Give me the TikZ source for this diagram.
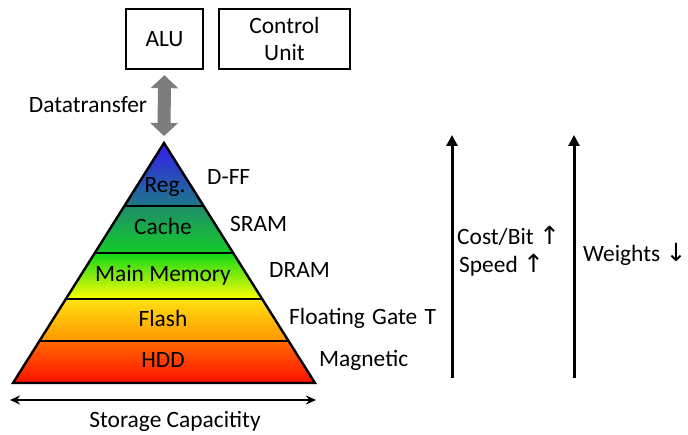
\documentclass[tikz,border=0pt]{standalone}
\usepackage{fontspec}
\setmainfont{Carlito}
\newfontfamily\symfont{DejaVu Sans}
\usetikzlibrary{calc,arrows.meta}
\definecolor{regtop}{RGB}{50,28,240}
\definecolor{regbot}{RGB}{30,120,135}
\definecolor{cachetop}{RGB}{30,140,105}
\definecolor{cachebot}{RGB}{20,205,40}
\definecolor{memtop}{RGB}{15,215,25}
\definecolor{membot}{RGB}{255,255,0}
\definecolor{flashtop}{RGB}{255,225,15}
\definecolor{flashbot}{RGB}{255,150,0}
\definecolor{hddtop}{RGB}{255,105,0}
\definecolor{hddbot}{RGB}{255,15,0}
\definecolor{xfer}{RGB}{125,125,125}
\newcommand{\myarr}[1]{{\symfont\fontsize{25}{28}\selectfont#1}}
\begin{document}
\begin{tikzpicture}[x=1pt,y=-1pt,
  every node/.style={font=\fontsize{23.4}{28}\selectfont},
  txt/.style={inner sep=0pt,anchor=base},
  box/.style={draw,line width=2.4pt,inner sep=0pt,align=center},
  band/.style={draw,line width=2.4pt,line join=miter},
  bigarrow/.style={line width=3pt,-{Triangle[length=11pt,width=11pt]}}]
\useasboundingbox (0,0) rectangle (688,435);
% processor boxes
\node[box,minimum width=77pt,minimum height=60pt] (alu) at (164.5,39) {ALU};
\node[box,minimum width=131pt,minimum height=60pt] (cu) at (284.5,39) {Control\\[-1pt]Unit};
% pyramid geometry
\coordinate (A) at (164,143);
\coordinate (BL) at (13,383);
\coordinate (BR) at (315,383);
\foreach \n/\t in {1/0.2625,2/0.4583,3/0.65,4/0.825}{
  \coordinate (L\n) at ($(A)!\t!(BL)$);
  \coordinate (R\n) at ($(A)!\t!(BR)$);
}
\shade[top color=regtop,bottom color=regbot] (A) -- (L1) -- (R1) -- cycle;
\shade[top color=cachetop,bottom color=cachebot] (L1) -- (L2) -- (R2) -- (R1) -- cycle;
\shade[top color=memtop,bottom color=membot] (L2) -- (L3) -- (R3) -- (R2) -- cycle;
\shade[top color=flashtop,bottom color=flashbot] (L3) -- (L4) -- (R4) -- (R3) -- cycle;
\shade[top color=hddtop,bottom color=hddbot] (L4) -- (BL) -- (BR) -- (R4) -- cycle;
\draw[band] (A) -- (BL) -- (BR) -- cycle;
\foreach \n in {1,2,3,4}{\draw[band] (L\n) -- (R\n);}
% data transfer arrow
\draw[xfer,line width=13pt,{Triangle[length=13pt,width=27pt]}-{Triangle[length=13pt,width=27pt]},shorten <=5pt,shorten >=7pt] (alu.south) -- (A);
\node[txt] (dt) at (88,113) {Datatransfer};
% level labels
\node[txt] (reg) at (165,193) {Reg.};
\node[txt] (cache) at (163,235) {Cache};
\node[txt] (mem) at (163,282) {Main Memory};
\node[txt] (flash) at (163,327) {Flash};
\node[txt] (hdd) at (163,368) {HDD};
% technology labels
\node[txt,anchor=base west] (dff) at (207,185) {D-FF};
\node[txt,anchor=base west] (sram) at (230,232) {SRAM};
\node[txt,anchor=base west] (dram) at (269,278) {DRAM};
\node[txt,anchor=base west] (fgt) at (289,325) {Floating\hspace{2pt} Gate\hspace{2pt} T};
\node[txt,anchor=base west] (mag) at (319,367) {Magnetic};
% storage capacity
\coordinate (sl) at (10,400);
\coordinate (sr) at (316,400);
\draw[line width=2pt,{Stealth[length=10pt,width=9pt]}-{Stealth[length=10pt,width=9pt]}] (sl) -- (sr);
\node[txt] (sc) at (175,427) {Storage Capacitity};
% right arrows
\coordinate (a1b) at (452,378);
\coordinate (a1t) at (452,135);
\coordinate (a2b) at (574,378);
\coordinate (a2t) at (574,135);
\draw[bigarrow] (a1b) -- (a1t);
\draw[bigarrow] (a2b) -- (a2t);
\node[txt,anchor=base west] (cost) at (457,245) {Cost/Bit \myarr{↑}};
\node[txt,anchor=base west] (speed) at (459,273) {Speed \myarr{↑}};
\node[txt,anchor=base west] (wt) at (583,262) {Weights \myarr{↓}};
\end{tikzpicture}
\end{document}
